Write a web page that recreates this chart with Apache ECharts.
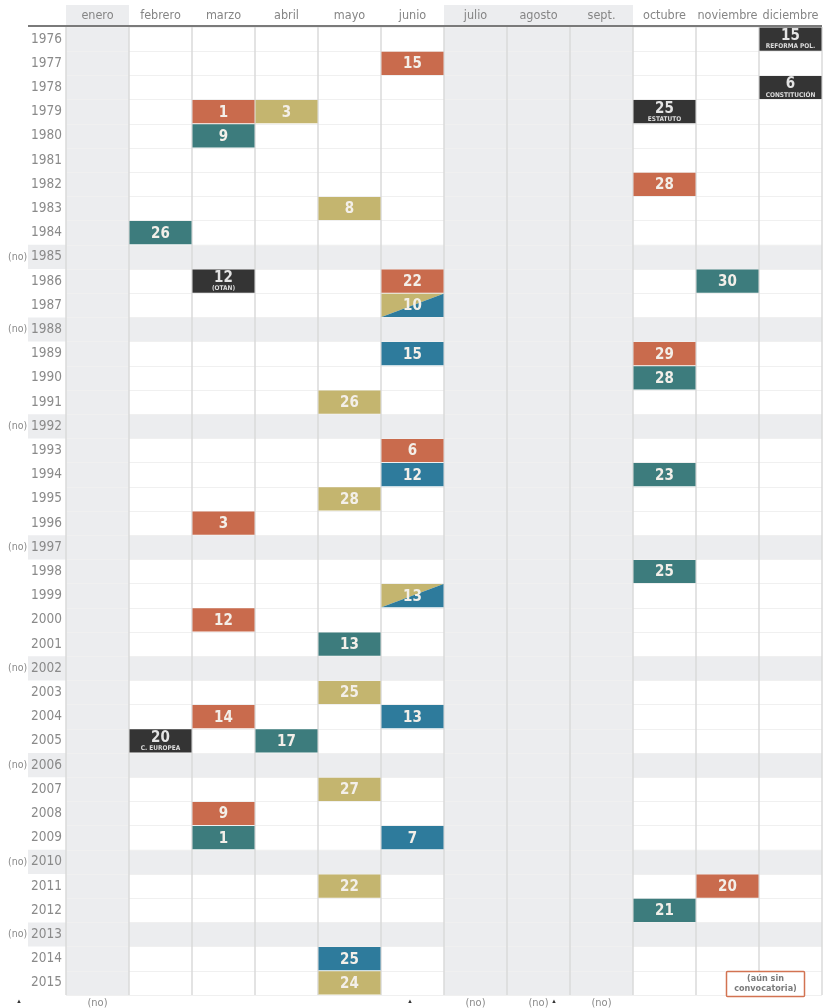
<!DOCTYPE html>
<html>
<head>
<meta charset="utf-8">
<script src="https://cdn.jsdelivr.net/npm/echarts@6/dist/echarts.min.js"></script>
<style>
  html, body { margin: 0; padding: 0; background: #fff; }
  #main { width: 827px; height: 1008px; }
</style>
</head>
<body>
<div id="main"></div>
<script>
// meses y años (categorías)
const months = ['enero', 'febrero', 'marzo', 'abril', 'mayo', 'junio', 'julio', 'agosto', 'sept.', 'octubre', 'noviembre', 'diciembre']
const years = ['1976', '1977', '1978', '1979', '1980', '1981', '1982', '1983', '1984', '1985',
  '1986', '1987', '1988', '1989', '1990', '1991', '1992', '1993', '1994', '1995',
  '1996', '1997', '1998', '1999', '2000', '2001', '2002', '2003', '2004', '2005',
  '2006', '2007', '2008', '2009', '2010', '2011', '2012', '2013', '2014', '2015']
const noYears = ['1985', '1988', '1992', '1997', '2002', '2006', '2010', '2013'] // años sin elecciones
const greyMonths = ['enero', 'julio', 'agosto', 'sept.'] // meses sin elecciones
const bottomNo = ['enero', 'julio', 'agosto', 'sept.']

// [mes, año, día]
const generales = [['junio', '1977', 15], ['marzo', '1979', 1], ['octubre', '1982', 28], ['junio', '1986', 22],
  ['octubre', '1989', 29], ['junio', '1993', 6], ['marzo', '1996', 3], ['marzo', '2000', 12],
  ['marzo', '2004', 14], ['marzo', '2008', 9], ['noviembre', '2011', 20]]
const autonomicas = [['marzo', '1980', 9], ['febrero', '1984', 26], ['noviembre', '1986', 30], ['octubre', '1990', 28],
  ['octubre', '1994', 23], ['octubre', '1998', 25], ['mayo', '2001', 13], ['abril', '2005', 17],
  ['marzo', '2009', 1], ['octubre', '2012', 21]]
const municipales = [['abril', '1979', 3], ['mayo', '1983', 8], ['mayo', '1991', 26], ['mayo', '1995', 28],
  ['mayo', '2003', 25], ['mayo', '2007', 27], ['mayo', '2011', 22], ['mayo', '2015', 24]]
const europeas = [['junio', '1989', 15], ['junio', '1994', 12], ['junio', '2004', 13], ['junio', '2009', 7], ['mayo', '2014', 25]]
const conjuntas = [['junio', '1987', 10], ['junio', '1999', 13]] // municipales + europeas
const referendums = [['diciembre', '1976', 15, 'REFORMA POL.'], ['diciembre', '1978', 6, 'CONSTITUCIÓN'],
  ['octubre', '1979', 25, 'ESTATUTO'], ['marzo', '1986', 12, '(OTAN)'], ['febrero', '2005', 20, 'C. EUROPEA']]
const notes = [['diciembre', '2015', '(aún sin\nconvocatoria)']]

const FONT = '"DejaVu Sans Condensed", "Liberation Sans Narrow", "DejaVu Sans", sans-serif'
const GREY_BG = '#ecedef'
const C_ORANGE = '#c96b4d'
const C_TEAL = '#3d7c7d'
const C_BLUE = '#2e7b9c'
const C_KHAKI = '#c4b56f'
const C_BLACK = '#343434'

const chart = echarts.init(document.getElementById('main'))

function cellBox (api) {
  const p = api.coord([api.value(0), api.value(1)])
  const s = api.size([1, 1])
  return { x: p[0] - s[0] / 2 + 0.5, y: p[1] - s[1] / 2 + 0.5, w: s[0] - 1, h: s[1] - 1, cx: p[0], cy: p[1] }
}

function dayText (b, day, dy) {
  return {
    type: 'text',
    style: {
      x: b.cx, y: b.cy + (dy || 0), text: String(day), align: 'center', verticalAlign: 'middle',
      fill: '#f3efe9', font: 'bold 15px ' + FONT
    }
  }
}

function solidSeries (name, data, color) {
  return {
    name: name,
    type: 'custom',
    data: data,
    encode: { x: 0, y: 1 },
    renderItem: function (params, api) {
      const b = cellBox(api)
      return {
        type: 'group',
        children: [
          { type: 'rect', shape: { x: b.x, y: b.y, width: b.w, height: b.h }, style: { fill: color } },
          dayText(b, api.value(2), 1)
        ]
      }
    }
  }
}

const option = {
  animation: false,
  grid: { left: 66, right: 5, top: 27, bottom: 13, outerBoundsMode: 'none', containLabel: false },
  xAxis: [{
    type: 'category',
    data: months,
    position: 'top',
    axisLine: { show: false },
    axisTick: { show: false },
    axisLabel: { interval: 0, color: '#858585', fontSize: 12.5, fontFamily: FONT, margin: 5 },
    splitLine: { show: true, interval: 0, lineStyle: { color: '#dadada', width: 1.5 } }
  }, {
    type: 'category',
    data: months,
    position: 'bottom',
    axisLine: { show: false },
    axisTick: { show: false },
    axisLabel: {
      interval: 0, color: '#8a8a8a', fontSize: 11, fontFamily: FONT, margin: 3,
      formatter: function (v) { return bottomNo.indexOf(v) >= 0 ? '(no)' : '' }
    }
  }],
  yAxis: {
    type: 'category',
    data: years,
    inverse: true,
    axisLine: { show: false },
    axisTick: { show: false },
    axisLabel: {
      interval: 0, color: '#8a8a8a', fontSize: 13.5, fontFamily: FONT, margin: 4,
      formatter: function (v) { return noYears.indexOf(v) >= 0 ? '{no|(no)} ' + v : v },
      rich: { no: { fontSize: 10.5, color: '#8a8a8a', fontFamily: FONT } }
    },
    splitLine: { show: true, interval: 0, lineStyle: { color: '#f0f0f0', width: 1 } }
  },
  series: [
    { // columnas grises (meses sin elecciones)
      name: 'meses', type: 'custom', z: -2, silent: true,
      data: greyMonths.map(m => [m, years[0]]),
      encode: { x: 0, y: 1 },
      renderItem: function (params, api) {
        const p = api.coord([api.value(0), api.value(1)])
        const s = api.size([1, 1])
        return {
          type: 'rect',
          shape: { x: p[0] - s[0] / 2, y: params.coordSys.y - 22, width: s[0], height: params.coordSys.height + 22 },
          style: { fill: GREY_BG }
        }
      }
    },
    { // filas grises (años sin elecciones)
      name: 'años', type: 'custom', z: -2, silent: true,
      data: noYears.map(y => [months[0], y]),
      encode: { x: 0, y: 1 },
      renderItem: function (params, api) {
        const p = api.coord([api.value(0), api.value(1)])
        const s = api.size([1, 1])
        const cs = params.coordSys
        return {
          type: 'rect',
          shape: { x: cs.x - 38, y: p[1] - s[1] / 2, width: cs.width + 38, height: s[1] },
          style: { fill: GREY_BG }
        }
      }
    },
    { // línea de cabecera
      name: 'cabecera', type: 'custom', z: 3, silent: true,
      data: [[months[0], years[0]]],
      encode: { x: 0, y: 1 },
      renderItem: function (params, api) {
        const cs = params.coordSys
        return {
          type: 'line',
          shape: { x1: cs.x - 38, y1: cs.y - 1, x2: cs.x + cs.width, y2: cs.y - 1 },
          style: { stroke: '#7a7a7a', lineWidth: 2 }
        }
      }
    },
    solidSeries('Generales', generales, C_ORANGE),
    solidSeries('Autonómicas', autonomicas, C_TEAL),
    solidSeries('Municipales', municipales, C_KHAKI),
    solidSeries('Europeas', europeas, C_BLUE),
    {
      name: 'Municipales y europeas',
      type: 'custom',
      data: conjuntas,
      encode: { x: 0, y: 1 },
      renderItem: function (params, api) {
        const b = cellBox(api)
        return {
          type: 'group',
          children: [
            { type: 'polygon', shape: { points: [[b.x, b.y], [b.x + b.w, b.y], [b.x, b.y + b.h]] }, style: { fill: C_KHAKI } },
            { type: 'polygon', shape: { points: [[b.x + b.w, b.y], [b.x + b.w, b.y + b.h], [b.x, b.y + b.h]] }, style: { fill: C_BLUE } },
            dayText(b, api.value(2), 1)
          ]
        }
      }
    },
    {
      name: 'Referéndums',
      type: 'custom',
      data: referendums,
      encode: { x: 0, y: 1 },
      renderItem: function (params, api) {
        const b = cellBox(api)
        return {
          type: 'group',
          children: [
            { type: 'rect', shape: { x: b.x, y: b.y, width: b.w, height: b.h }, style: { fill: C_BLACK } },
            {
              type: 'text',
              style: {
                x: b.cx, y: b.cy - 3, text: String(api.value(2)), align: 'center', verticalAlign: 'middle',
                fill: '#e4e4e4', font: 'bold 15px ' + FONT
              }
            },
            {
              type: 'text',
              style: {
                x: b.cx, y: b.y + b.h - 4, text: referendums[params.dataIndex][3], align: 'center', verticalAlign: 'middle',
                fill: '#dcdcdc', font: 'bold 6.5px ' + FONT
              }
            }
          ]
        }
      }
    },
    {
      name: 'nota',
      type: 'custom',
      data: notes,
      encode: { x: 0, y: 1 },
      renderItem: function (params, api) {
        const b = cellBox(api)
        const w = 78
        const h = 25
        const cx = b.cx - 25
        const cy = b.cy + 1
        return {
          type: 'group',
          children: [
            { type: 'rect', shape: { x: cx - w / 2, y: cy - h / 2, width: w, height: h, r: 1 }, style: { fill: '#fff', stroke: '#d27352', lineWidth: 1.5 } },
            {
              type: 'text',
              style: {
                x: cx, y: cy, text: notes[params.dataIndex][2], align: 'center', verticalAlign: 'middle',
                fill: '#7a7a7a', font: 'bold 9px ' + FONT, lineHeight: 10
              }
            }
          ]
        }
      }
    }
  ],
  graphic: [
    { type: 'text', left: 16, top: 998, style: { text: '▲', fill: '#333', font: '6px sans-serif' } },
    { type: 'text', left: 407, top: 998, style: { text: '▲', fill: '#333', font: '6px sans-serif' } },
    { type: 'text', left: 551, top: 998, style: { text: '▲', fill: '#333', font: '6px sans-serif' } }
  ]
}

chart.setOption(option)
</script>
</body>
</html>
